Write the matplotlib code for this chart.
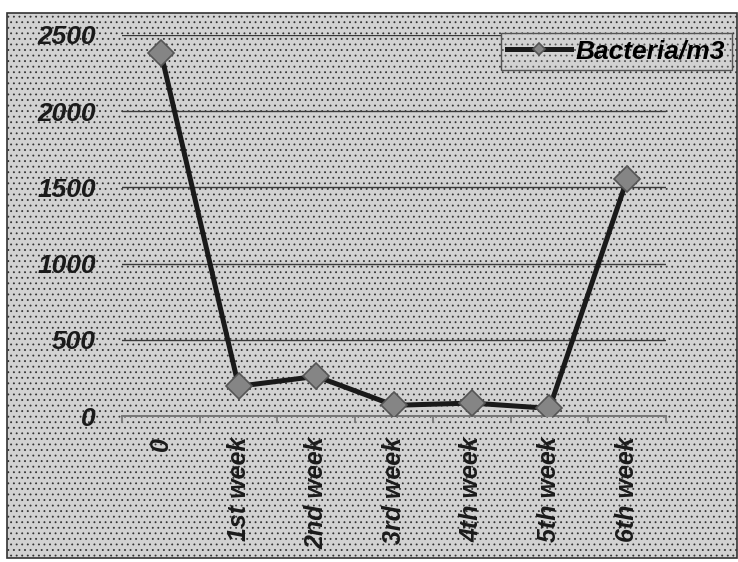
import numpy as np
import matplotlib
matplotlib.use("Agg")
import matplotlib.pyplot as plt
from matplotlib.patches import Rectangle

categories = ['0', '1st week', '2nd week', '3rd week', '4th week', '5th week', '6th week']
bacteria = [2385, 195, 260, 70, 85, 50, 1555]
yticks = [0, 500, 1000, 1500, 2000, 2500]

plt.rcParams['font.family'] = ['Liberation Sans', 'DejaVu Sans']
plt.rcParams['hatch.color'] = '#adadad'
plt.rcParams['hatch.linewidth'] = 0.6
W, H = 738, 562
fig = plt.figure(figsize=(W / 100, H / 100), dpi=100)
fig.patch.set_facecolor('white')

# scanned chart area with grey dotted background and frame
bg = '#d2d2d2'
fig.patches.append(Rectangle((7 / W, 1 - 558 / H), 730 / W, 545 / H,
                             transform=fig.transFigure, facecolor=bg,
                             hatch='...', edgecolor='#333333', linewidth=1.2,
                             zorder=-10))

ax = fig.add_axes([122 / W, 1 - 416 / H, 544 / W, 381 / H])
ax.set_facecolor('none')

x = np.arange(len(categories))
ax.plot(x, bacteria, color='#1a1a1a', linewidth=3.6, marker='D', markersize=13,
        markerfacecolor='#858585', markeredgecolor='#555555', markeredgewidth=1.2,
        label='Bacteria/m3', zorder=3)

ax.set_xlim(-0.5, len(categories) - 0.5)
ax.set_ylim(0, 2500)
ax.set_yticks(yticks)
ax.set_yticklabels([str(v) for v in yticks], fontsize=19,
                   fontweight='bold', fontstyle='italic', color='#1a1a1a')
ax.tick_params(axis='y', length=0, pad=19)
ax.yaxis.grid(True, color='#3a3a3a', linewidth=1.0)
ax.set_axisbelow(True)

ax.set_xticks(np.arange(-0.5, len(categories), 1))
ax.set_xticklabels([])
ax.tick_params(axis='x', which='major', direction='out', length=5,
               color='#777777', width=1.2)
ax.set_xticks(x, minor=True)
ax.set_xticklabels(categories, minor=True, rotation=90, fontsize=18,
                   fontweight='bold', fontstyle='italic', color='#1a1a1a')
ax.tick_params(axis='x', which='minor', length=0, pad=15)

for s in ['left', 'right', 'top']:
    ax.spines[s].set_visible(False)
ax.spines['bottom'].set_color('#777777')
ax.spines['bottom'].set_linewidth(1.4)

leg = ax.legend(loc='upper right', bbox_to_anchor=(732 / W, 1 - 33 / H),
                bbox_transform=fig.transFigure, borderaxespad=0,
                fancybox=False, framealpha=1, facecolor=bg, edgecolor='#555555',
                handlelength=2.4, handletextpad=0.2, markerscale=0.45,
                borderpad=0.25,
                prop={'size': 19, 'weight': 'bold', 'style': 'italic'})
leg.get_frame().set_linewidth(1.0)
leg.get_frame().set_hatch('...')

fig.savefig('out.png', dpi=100, facecolor=fig.get_facecolor())
